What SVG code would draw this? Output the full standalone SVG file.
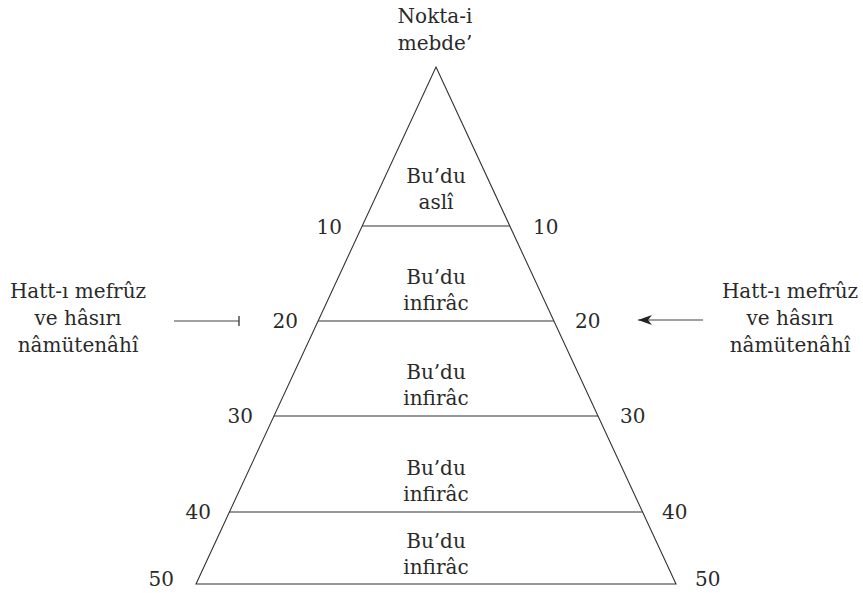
<svg xmlns="http://www.w3.org/2000/svg" width="863" height="593" viewBox="0 0 863 593">
<style>
text{font-family:"DejaVu Serif","Liberation Serif",serif;font-size:20px;fill:#2a2a2a;}
.c{text-anchor:middle;}
.e{text-anchor:end;}
.ln{stroke:#333;stroke-width:1.1;fill:none;}
.cn{stroke:#444;stroke-width:1.1;fill:none;}
</style>
<defs>
<marker id="ah" viewBox="0 0 14 10" refX="14" refY="5" markerWidth="14" markerHeight="10" markerUnits="userSpaceOnUse" orient="auto">
<path d="M14,5 L0,0 L4,5 L0,10 Z" fill="#222"/>
</marker>
<marker id="bar" viewBox="0 0 2 10" refX="1" refY="5" markerWidth="2" markerHeight="10" markerUnits="userSpaceOnUse" orient="auto">
<path d="M1,0 L1,10" stroke="#333" stroke-width="1.3"/>
</marker>
</defs>
<g id="pyramid">
<polygon class="ln" points="436,67 676,584 196,584"/>
<line class="ln" x1="362.2" y1="226" x2="509.8" y2="226"/>
<line class="ln" x1="318.1" y1="321" x2="553.9" y2="321"/>
<line class="ln" x1="274" y1="416" x2="598" y2="416"/>
<line class="ln" x1="229.4" y1="512" x2="642.6" y2="512"/>
</g>
<g id="apex"><text class="c" x="435" y="23">Nokta-i</text><text class="c" x="435" y="50">mebde’</text></g>
<g id="band1"><text class="c" x="436" y="183">Bu’du</text><text class="c" x="436" y="209">aslî</text></g>
<g id="band2"><text class="c" x="436" y="284">Bu’du</text><text class="c" x="436" y="310">infirâc</text></g>
<g id="band3"><text class="c" x="436" y="379">Bu’du</text><text class="c" x="436" y="405">infirâc</text></g>
<g id="band4"><text class="c" x="436" y="475">Bu’du</text><text class="c" x="436" y="501">infirâc</text></g>
<g id="band5"><text class="c" x="436" y="548">Bu’du</text><text class="c" x="436" y="574">infirâc</text></g>
<g id="levels">
<text class="e" x="342" y="234">10</text><text x="533" y="234">10</text>
<text class="e" x="298" y="328">20</text><text x="575" y="328">20</text>
<text class="e" x="253" y="423">30</text><text x="620" y="423">30</text>
<text class="e" x="211" y="519">40</text><text x="662" y="519">40</text>
<text class="e" x="174" y="586">50</text><text x="695" y="586">50</text>
</g>
<g id="left-label"><text class="c" x="78" y="298">Hatt-ı mefrûz</text><text class="c" x="78" y="325">ve hâsırı</text><text class="c" x="78" y="352">nâmütenâhî</text></g>
<g id="right-label"><text class="c" x="790" y="298">Hatt-ı mefrûz</text><text class="c" x="790" y="325">ve hâsırı</text><text class="c" x="790" y="352">nâmütenâhî</text></g>
<g id="connectors">
<line class="cn" x1="174" y1="321" x2="239" y2="321" marker-end="url(#bar)"/>
<line class="cn" x1="703" y1="320" x2="638" y2="320" marker-end="url(#ah)"/>
</g>
</svg>
